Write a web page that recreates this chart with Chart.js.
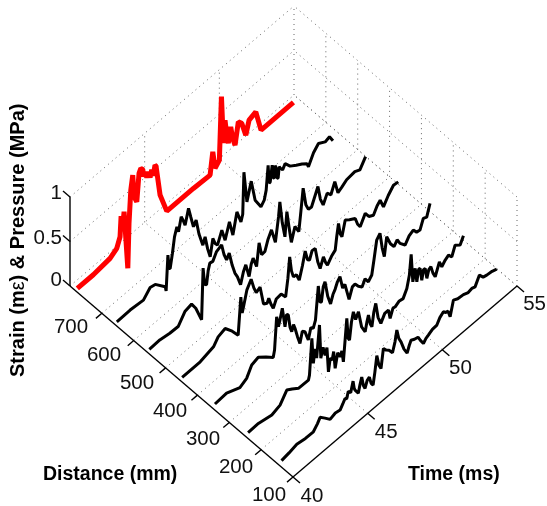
<!DOCTYPE html>
<html><head><meta charset="utf-8">
<style>html,body{margin:0;padding:0;background:#fff}canvas{display:block}</style>
<script src="https://cdn.jsdelivr.net/npm/chart.js@4"></script></head>
<body><canvas id="c" width="547" height="506"></canvas>
<script>
const timeTicks=[40,45,50,55];
const distanceTicks=[100,200,300,400,500,600,700,800];
const distanceLabels=[100,200,300,400,500,600,700];
const strainTicks=[0,0.5,1];
const strainLabels=['0','0.5','1'];

const traceDistances=[150,255,359,462,565,667,791];
const traceZero=[-0.012,-0.019,-0.017,-0.034,-0.034,-0.038,-0.042];

/* each trace: [time ms, strain or pressure] */
const trace150=[[40.3,0],[40.8,.015],[41.32,.039],[41.9,.02],[42.43,.019],[42.7,.07],[42.88,.117],[43.21,.061],[43.55,-.002],[43.9,.02],[44.22,.007],[44.4,.05],[44.55,.09],[44.66,.07],[44.77,.14],[44.93,.1],[45.09,.208],[45.16,.12],[45.22,.088],[45.44,.022],[45.55,.1],[45.67,.17],[45.78,.06],[45.89,.011],[46.03,.08],[46.18,.097],[46.3,.01],[46.43,-.028],[46.55,.1],[46.68,.267],[46.82,.14],[46.96,.082],[47.12,.285],[47.3,.24],[47.5,.21],[47.73,.149],[47.9,.25],[48.02,.362],[48.15,.25],[48.30,.19],[48.5,.08],[48.71,.004],[48.85,.07],[48.97,.112],[49.2,.09],[49.44,.079],[49.6,.02],[49.80,-.043],[49.97,-.01],[50.13,.003],[50.4,.03],[50.70,.035],[50.9,.09],[51.14,.121],[51.3,.09],[51.45,.084],[51.59,.001],[51.81,.157],[52.1,.13],[52.48,.122],[52.8,.1],[53.04,.112],[53.26,.098],[53.55,.189],[53.8,.13],[54.04,.118],[54.4,.11],[54.71,.09]];

const trace255=[[40.3,0],[40.99,.004],[41.89,-.03],[42.44,.002],[42.89,.107],[43.25,.067],[43.67,.015],[44.34,.012],[44.41,.058],[44.57,.448],[44.67,.152],[44.78,.3],[44.89,.18],[45.08,.525],[45.17,.14],[45.32,.24],[45.46,.13],[45.58,.2],[45.68,-.087],[45.8,.05],[45.93,.009],[46.03,.09],[46.13,-.112],[46.3,.04],[46.46,-.03],[46.58,.02],[46.68,-.118],[46.91,.337],[47.0,.1],[47.09,.069],[47.22,.25],[47.35,.348],[47.5,.24],[47.69,.3],[47.9,.1],[48.14,.011],[48.25,.1],[48.36,.167],[48.48,.05],[48.59,.003],[48.72,.15],[48.85,.228],[49.0,.05],[49.19,-.045],[49.45,.03],[49.70,.031],[49.81,-.078],[50.0,.01],[50.15,.004],[50.4,.03],[50.68,.02],[50.93,.099],[51.10,.224],[51.22,.44],[51.33,.116],[51.49,.244],[51.60,.078],[51.72,.2],[51.82,.197],[51.93,.048],[52.05,.15],[52.16,.148],[52.27,.02],[52.4,.1],[52.54,.112],[52.68,.02],[52.83,-.042],[53.11,.085],[53.27,.007],[53.5,.05],[53.72,.074],[53.94,.022],[54.16,.122],[54.50,.075],[54.72,.148]];

const trace359=[[40.3,0],[41.08,.011],[41.97,-.054],[42.42,-.015],[42.76,.087],[43.20,.11],[43.72,.039],[44.2,-.036],[44.29,.036],[44.43,.39],[44.55,.26],[44.65,.321],[44.81,.43],[44.99,.198],[45.1,.32],[45.21,.298],[45.33,.14],[45.44,.078],[45.56,.14],[45.66,.084],[45.82,-.03],[45.99,-.133],[46.15,-.02],[46.33,-.051],[46.45,-.12],[46.55,-.175],[46.72,-.06],[46.88,-.091],[47.03,-.019],[47.22,.336],[47.33,.14],[47.43,.126],[47.55,.28],[47.67,.32],[47.85,.13],[48.04,.017],[48.2,.1],[48.35,.14],[48.5,.2],[48.67,.233],[48.85,.08],[49.0,.1],[49.28,-.11],[49.5,.0],[49.68,.007],[49.9,-.05],[50.15,-.094],[50.35,-.03],[50.57,-.096],[50.80,-.053],[50.95,.1],[51.13,.293],[51.35,.337],[51.5,.15],[51.64,.033],[51.80,.234],[52.05,.12],[52.29,.052],[52.5,.1],[52.69,.033],[53.03,-.035],[53.3,.03],[53.58,.055],[53.8,.0],[54.03,-.01],[54.25,.09],[54.48,.072],[54.70,.194]];

const trace462=[[40.3,0],[41.51,.002],[42.40,.044],[42.71,.111],[43.18,.138],[43.65,.04],[44.05,-.062],[44.23,.339],[44.32,.15],[44.41,.206],[44.63,.361],[44.92,.443],[45.1,.32],[45.26,.244],[45.52,.267],[45.75,.045],[45.99,.02],[46.1,.06],[46.25,-.03],[46.40,-.097],[46.6,-.02],[46.93,-.012],[47.23,-.087],[47.38,.1],[47.50,.325],[47.62,.15],[47.75,.064],[47.95,.06],[48.14,-.028],[48.35,.1],[48.54,.24],[48.7,.12],[48.83,.098],[49.0,.18],[49.21,.174],[49.38,.0],[49.54,-.098],[49.76,.001],[49.9,-.08],[50.03,-.13],[50.3,-.07],[50.55,-.036],[50.65,.1],[50.77,.233],[50.88,.1],[51.0,.049],[51.22,.206],[51.5,.17],[51.89,.128],[52.05,.04],[52.22,-.013],[52.56,.089],[52.8,.02],[53.11,-.01],[53.35,.06],[53.56,.094],[53.78,-.012],[54.1,.07],[54.45,.135],[54.77,.127]];

const trace565=[[40.3,0],[41.0,.006],[41.67,-.015],[42.23,-.02],[42.68,.084],[43.13,.103],[43.41,.017],[43.80,-.169],[43.90,.397],[44.0,.2],[44.13,.176],[44.24,.32],[44.35,.389],[44.55,.38],[44.80,.455],[45.14,.482],[45.3,.35],[45.47,.265],[45.65,.316],[45.85,.15],[46.03,.037],[46.2,-.03],[46.41,-.149],[46.6,-.03],[46.76,.025],[46.98,-.138],[47.12,-.02],[47.25,.03],[47.48,-.097],[47.65,.144],[47.82,-.013],[48.04,-.008],[48.25,.1],[48.48,.172],[48.74,-.006],[48.95,.25],[49.04,.407],[49.2,.15],[49.38,-.035],[49.51,.23],[49.65,.04],[49.81,-.158],[50.05,-.015],[50.31,-.109],[50.45,.1],[50.60,.337],[50.78,.124],[50.95,.05],[51.16,.046],[51.59,.215],[51.75,.05],[51.94,-.043],[52.21,.051],[52.46,-.003],[52.72,.108],[52.93,-.048],[53.2,-.02],[53.51,.015],[54.06,.028],[54.40,0],[54.78,.094]];

const trace667=[[40.3,0],[41.19,.005],[42.08,-.011],[42.53,.067],[42.87,.053],[43.54,-.07],[43.60,-.125],[43.72,.261],[43.80,.1],[43.87,.089],[44.02,.236],[44.16,.403],[44.32,.492],[44.43,.421],[44.61,.564],[44.75,.5],[44.87,.431],[45.10,.588],[45.25,.47],[45.43,.334],[45.61,.383],[45.8,.2],[46.06,.037],[46.21,.109],[46.38,-.05],[46.55,-.164],[46.73,.017],[46.88,-.06],[47.04,-.102],[47.33,.024],[47.55,-.12],[47.84,.045],[48.07,-.137],[48.34,.085],[48.61,-.065],[48.73,.003],[48.81,.464],[49.01,.102],[49.30,.293],[49.56,.042],[49.95,-.088],[50.17,-.045],[50.30,.049],[50.43,.31],[50.50,.1],[50.57,.1],[50.70,.272],[50.77,.12],[50.84,.107],[50.90,.24],[50.97,.2],[51.03,.08],[51.10,.069],[51.17,.19],[51.24,.162],[51.4,.12],[51.57,.166],[51.9,.09],[52.31,.042],[52.7,0],[53.03,-.044],[53.13,-.094],[53.47,.015],[53.80,.072],[54.25,.026],[54.54,.042],[54.77,-.036]];

const trace791=[[40.3,0],[41.37,0],[42.49,.024],[42.94,.072],[43.16,.171],[43.23,.393],[43.31,.224],[43.43,.413],[43.68,-.258],[43.76,.238],[43.88,.592],[44.01,.742],[44.10,.485],[44.28,.403],[44.43,.701],[44.55,.74],[44.68,.71],[44.75,.62],[44.83,.66],[44.95,.58],[45.05,.63],[45.17,.55],[45.28,.62],[45.38,.54],[45.5,.64],[45.57,.62],[45.84,.256],[46.29,.011],[48.07,.011],[49.19,.001],[49.37,.237],[49.52,.031],[49.81,.081],[49.95,.773],[50.08,.234],[50.19,.475],[50.3,.3],[50.41,.185],[50.57,.345],[50.7,.2],[50.86,.099],[51.08,.329],[51.31,.279],[51.58,.108],[51.80,.245],[52.25,.274],[52.60,.018],[54.77,.019]];

const traces=[trace150,trace255,trace359,trace462,trace565,trace667,trace791];
const traceColors=['#000','#000','#000','#000','#000','#000','#f00'];

/* orthographic view of the 3-D box */
const view={ox:293,oy:477,tx:224/15,ty:-191/15,dx:-223/700,dy:-191/700,zy:-89};
const px=(t,d,z)=>view.ox+view.tx*(t-40)+view.dx*(d-100);
const py=(t,d,z)=>view.oy+view.ty*(t-40)+view.dy*(d-100)+view.zy*z;
const P=(t,d,z)=>({x:px(t,d,z),y:py(t,d,z)});

const datasets=[];
const seg=(a,b,style)=>datasets.push(Object.assign({data:[a,b],showLine:true,pointRadius:0,tension:0,fill:false},style));
const dotted={borderColor:'#666',borderWidth:1,borderDash:[1,4],order:100};
const solid={borderColor:'#000',borderWidth:1.4,order:50};
const T0=timeTicks[0],T1=timeTicks[timeTicks.length-1],D0=distanceTicks[0],D1=distanceTicks[distanceTicks.length-1],Z1=strainTicks[strainTicks.length-1];

distanceTicks.slice(1).forEach(d=>seg(P(T0,d,0),P(T1,d,0),dotted));
timeTicks.slice(1).forEach(t=>seg(P(t,D0,0),P(t,D1,0),dotted));
strainTicks.forEach(z=>{ if(z>0) seg(P(T0,D1,z),P(T1,D1,z),dotted); seg(P(T1,D0,z),P(T1,D1,z),dotted); });
timeTicks.slice(1).forEach(t=>seg(P(t,D1,0),P(t,D1,Z1),dotted));
distanceTicks.slice(0,-1).forEach(d=>seg(P(T1,d,0),P(T1,d,Z1),dotted));
seg(P(T0,D0,0),P(T0,D1,0),solid);
seg(P(T0,D0,0),P(T1,D0,0),solid);
seg(P(T0,D1,0),P(T0,D1,Z1),solid);
distanceTicks.slice(0,-1).forEach(d=>seg(P(T0,d,0),P(T0-0.4,d,0),solid));
timeTicks.forEach(t=>seg(P(t,D0,0),P(t,D0-22,0),solid));
strainTicks.forEach(z=>seg(P(T0,D1,z),P(T0,D1+22,z),solid));
traceDistances.forEach((d,i)=>{
  datasets.push({
    data:traces[i].map(([t,s])=>P(t,d,s+traceZero[i])),
    showLine:true,pointRadius:0,tension:0,fill:false,
    borderColor:traceColors[i],borderWidth:i===6?5:3,borderJoinStyle:'bevel',order:1+i
  });
});

const FONT='"Liberation Sans", Arial, sans-serif';
const textPlugin={id:'text',afterDraw(ch){
  const c=ch.ctx;c.save();c.fillStyle='#111';c.textBaseline='middle';
  c.font='20.5px '+FONT;c.textAlign='center';
  timeTicks.forEach((t,i)=>c.fillText(String(t),312+74.2*i,496-64*i));
  distanceLabels.forEach((d,i)=>c.fillText(String(d),269-33*i,495-28*i));
  c.textAlign='right';
  const zlabY=[280,238,193];
  strainLabels.forEach((s,i)=>c.fillText(s,62,zlabY[i]));
  c.fillStyle='#000';
  c.textAlign='left';c.font='bold 19.5px '+FONT;
  c.fillText('Distance (mm)',43,475);
  c.fillText('Time (ms)',408,475);
  c.translate(24,377);c.rotate(-Math.PI/2);c.textBaseline='alphabetic';
  let x=0;
  [['Strain (m','bold'],['\u03b5','normal'],[') & Pressure (MPa)','bold']].forEach(([s,w])=>{
    c.font=w+' 20px '+FONT;c.fillText(s,x,0);x+=c.measureText(s).width;
  });
  c.restore();
}};

new Chart(document.getElementById('c'),{
  type:'scatter',
  data:{datasets},
  options:{
    responsive:false,animation:false,events:[],
    layout:{padding:0},
    plugins:{legend:{display:false},tooltip:{enabled:false}},
    scales:{
      x:{type:'linear',min:0,max:547,display:false},
      y:{type:'linear',min:0,max:506,reverse:true,display:false}
    }
  },
  plugins:[textPlugin,{id:'bg',beforeDraw(ch){const c=ch.ctx;c.save();c.fillStyle='#fff';c.fillRect(0,0,ch.width,ch.height);c.restore();}}]
});
</script></body></html>
